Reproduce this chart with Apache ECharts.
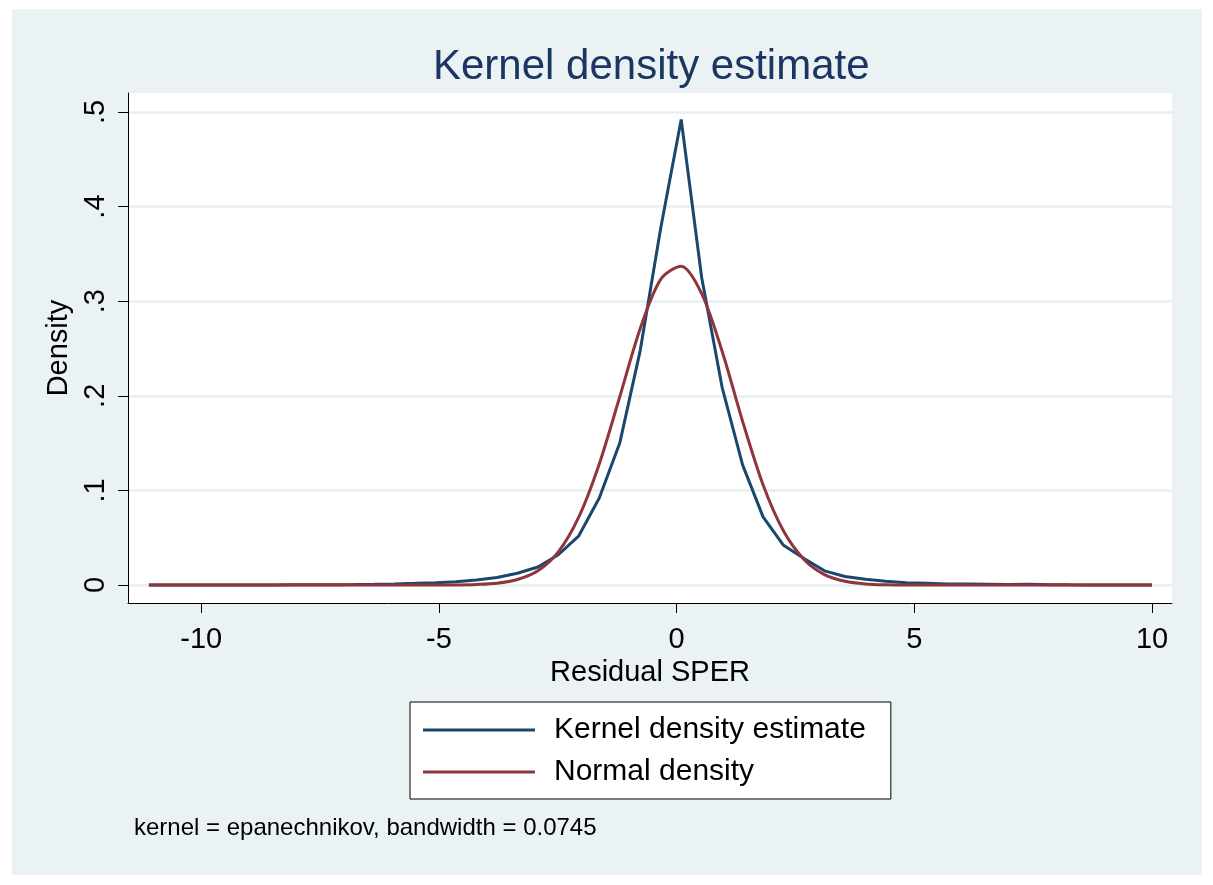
<!DOCTYPE html>
<html>
<head>
<meta charset="utf-8">
<script src="https://cdn.jsdelivr.net/npm/echarts@6/dist/echarts.min.js"></script>
<style>
html,body{margin:0;padding:0;background:#ffffff;}
#bg{position:absolute;left:12px;top:9px;width:1190px;height:866px;background:#EAF2F3;}
#chart{position:absolute;left:0;top:0;width:1213px;height:885px;}
</style>
</head>
<body>
<div id="bg"></div>
<div id="chart"></div>
<script>
// Evaluation points (Residual SPER)
const xPoints = [-11.100,-10.669,-10.239,-9.808,-9.378,-8.947,-8.516,-8.086,-7.655,-7.224,
  -6.794,-6.363,-5.933,-5.502,-5.071,-4.641,-4.210,-3.780,-3.349,-2.918,
  -2.488,-2.057,-1.627,-1.196,-0.765,-0.335,0.096,0.527,0.957,1.388,
  1.818,2.249,2.680,3.110,3.541,3.971,4.402,4.833,5.263,5.694,
  6.124,6.555,6.986,7.416,7.847,8.278,8.708,9.139,9.569,10.000];
// Kernel density estimate
const kernelDensity = [0,0,0,0,0,0.0001,0.0001,0.0002,0.0002,0.0003,
  0.0005,0.0008,0.0012,0.0018,0.0025,0.0035,0.0053,0.008,0.0125,0.019,
  0.032,0.052,0.092,0.150,0.248,0.377,0.492,0.325,0.209,0.127,
  0.072,0.042,0.028,0.015,0.009,0.006,0.004,0.0025,0.002,0.0012,
  0.001,0.0008,0.0006,0.0009,0.0004,0.0002,0.0001,0,0,0];
// Normal density
const normalDensity = [0,0,0,0,0,0,0,0,0,0,
  0,0,0,0,0,0.0001,0.0006,0.0019,0.0058,0.015,
  0.035,0.072,0.128,0.199,0.271,0.323,0.337,0.308,0.247,0.173,
  0.106,0.057,0.027,0.011,0.004,0.0012,0.0003,0.0001,0,0,
  0,0,0,0,0,0,0,0,0,0];
const xTicks = [-10,-5,0,5,10];
const yTicks = [0,0.1,0.2,0.3,0.4,0.5];
const yTickLabels = {0:'0',0.1:'.1',0.2:'.2',0.3:'.3',0.4:'.4',0.5:'.5'};
const seriesNames = ['Kernel density estimate','Normal density'];
const titleText = 'Kernel density estimate';
const xTitle = 'Residual SPER';
const yTitle = 'Density';
const noteText = 'kernel = epanechnikov, bandwidth = 0.0745';

const FONT = '"Liberation Sans", Arial, sans-serif';
const chart = echarts.init(document.getElementById('chart'), null, {renderer:'canvas'});
const pair = (ys) => xPoints.map((x,i)=>[x, ys[i]]);

chart.setOption({
  backgroundColor: 'transparent',
  animation: false,
  title: {
    text: titleText, left: 433, top: 46, padding: 0,
    textStyle: {fontFamily: FONT, fontSize: 42, fontWeight: 'normal', color: '#1C3663'}
  },
  grid: {
    left: 128, top: 93, right: 41, bottom: 282,
    show: true, backgroundColor: '#ffffff', borderWidth: 0
  },
  xAxis: {
    type: 'value', min: -11.54, max: 10.42,
    name: xTitle, nameLocation: 'middle', nameGap: 50,
    nameTextStyle: {fontFamily: FONT, fontSize: 29, color: '#000'},
    axisLine: {onZero: false, lineStyle: {color: '#000', width: 1}},
    axisTick: {show: true, length: 10, lineStyle: {color: '#000'}, customValues: xTicks},
    axisLabel: {customValues: xTicks, margin: 22, fontFamily: FONT, fontSize: 29, color: '#000'},
    splitLine: {show: false}
  },
  yAxis: {
    type: 'value', min: -0.019, max: 0.52,
    name: yTitle, nameLocation: 'middle', nameGap: 52, nameRotate: 90,
    nameTextStyle: {fontFamily: FONT, fontSize: 29, color: '#000'},
    axisLine: {show: true, onZero: false, lineStyle: {color: '#000', width: 1}},
    axisTick: {show: true, length: 10, lineStyle: {color: '#000'}, customValues: yTicks},
    axisLabel: {customValues: yTicks, rotate: 90, margin: 18, fontFamily: FONT, fontSize: 29, color: '#000',
      formatter: (v) => yTickLabels[Math.round(v*10)/10] ?? String(v)},
    splitLine: {show: true, lineStyle: {color: '#E6EFF1', width: 2.5}}
  },
  legend: {
    left: 410, top: 702, orient: 'vertical',
    backgroundColor: '#ffffff', borderColor: '#000', borderWidth: 1,
    padding: [13, 25, 12, 13],
    icon: 'rect', itemWidth: 112, itemHeight: 3, itemGap: 12,
    textStyle: {fontFamily: FONT, fontSize: 30, color: '#000', lineHeight: 30, padding: [0,0,0,14]},
    data: seriesNames
  },
  graphic: [{
    type: 'text', left: 134, top: 816,
    style: {text: noteText, font: '24px ' + FONT, fill: '#000'}
  }],
  series: [
    {name: seriesNames[0], type: 'line', data: pair(kernelDensity), showSymbol: false, symbol: 'none',
     lineStyle: {color: '#1A476F', width: 3}, itemStyle: {color: '#1A476F'}, z: 3},
    {name: seriesNames[1], type: 'line', data: pair(normalDensity), showSymbol: false, symbol: 'none', smooth: 0.3,
     lineStyle: {color: '#90353B', width: 3}, itemStyle: {color: '#90353B'}, z: 4}
  ]
});
</script>
</body>
</html>
